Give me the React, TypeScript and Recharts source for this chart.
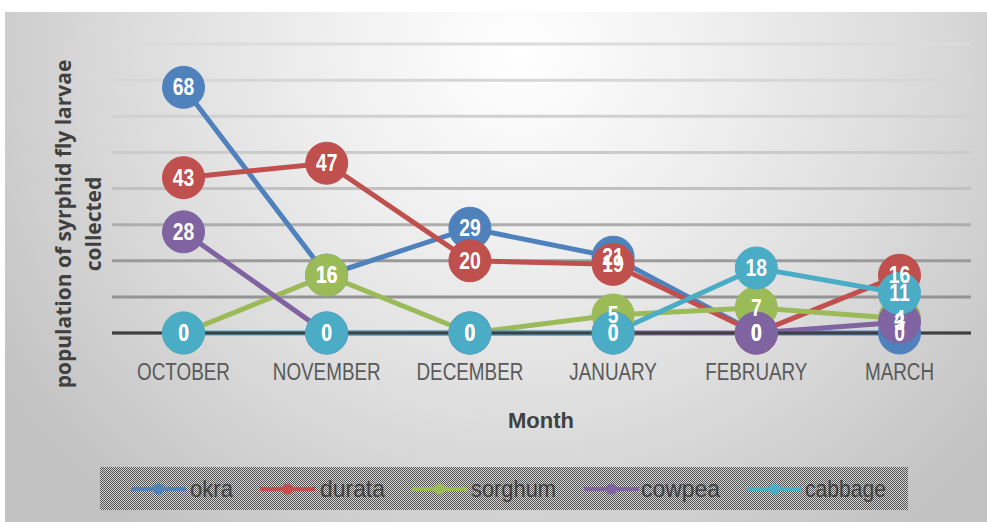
import React from 'react';
import { LineChart, Line, XAxis, YAxis, CartesianGrid, LabelList } from 'recharts';

const categories = ['OCTOBER', 'NOVEMBER', 'DECEMBER', 'JANUARY', 'FEBRUARY', 'MARCH'];
const okra = [68, 16, 29, 21, 0, 0];
const durata = [43, 47, 20, 19, 0, 16];
const sorghum = [0, 16, 0, 5, 7, 4];
const cowpea = [28, 0, 0, 0, 0, 3];
const cabbage = [0, 0, 0, 0, 18, 11];
const yTicks = [0, 10, 20, 30, 40, 50, 60, 70, 80];

const seriesNames = ['okra', 'durata', 'sorghum', 'cowpea', 'cabbage'];
const seriesValues = [okra, durata, sorghum, cowpea, cabbage];
const seriesColors = ['#4F81BD', '#C0504D', '#9BBB59', '#8064A2', '#4BACC6'];

const data = categories.map((month, i) => {
  const row: Record<string, any> = { month };
  seriesNames.forEach((n, k) => {
    row[n] = seriesValues[k][i];
  });
  return row;
});

const SANS = "'Liberation Sans', Arial, sans-serif";

const XTick = (props: any) => {
  const { x, y, payload } = props;
  return (
    <g transform={`translate(${x},${y + 47}) scale(0.82,1)`}>
      <text x={0} y={0} textAnchor="middle" fill="#595959" fontSize={23} fontFamily={SANS}>
        {payload.value}
      </text>
    </g>
  );
};

const PointLabel = (props: any) => {
  const { viewBox, value, x, y } = props;
  const cx = viewBox ? viewBox.x + (viewBox.width || 0) / 2 : x;
  const cy = viewBox ? viewBox.y + (viewBox.height || 0) / 2 : y;
  if (cx == null || cy == null) return null;
  return (
    <g transform={`translate(${cx},${cy + 8}) scale(0.84,1)`}>
      <text x={0} y={0} textAnchor="middle" fill="#ffffff" fontSize={23} fontWeight="bold" fontFamily={SANS}>
        {value}
      </text>
    </g>
  );
};

const legendLayout = [
  { line: 131, text: 190, w: 43 },
  { line: 260, text: 320, w: 65 },
  { line: 412, text: 471, w: 85 },
  { line: 584, text: 641, w: 79 },
  { line: 747, text: 805, w: 81 },
];

export default function App() {
  return (
    <div style={{ position: 'absolute', left: 0, top: 0, width: 987, height: 522, background: '#fff', overflow: 'hidden' }}>
      <div
        style={{
          position: 'absolute',
          left: 5,
          top: 12,
          width: 990,
          height: 520,
          background:
            'radial-gradient(ellipse 62% 115% at 52% 8%, #ffffff 0%, #f0f0f0 30%, #dedede 60%, #c2c2c2 100%)',
        }}
      />
      <div style={{ position: 'absolute', left: 0, top: 0 }}>
        <LineChart width={987} height={522} data={data} margin={{ top: 44, right: 16, left: 112, bottom: 159 }}>
          <defs>
            <linearGradient id="gridGrad" gradientUnits="userSpaceOnUse" x1="0" y1="44" x2="0" y2="333">
              <stop offset="0%" stopColor="#dcdcdc" />
              <stop offset="45%" stopColor="#c8c8c8" />
              <stop offset="75%" stopColor="#9a9a9a" />
              <stop offset="100%" stopColor="#8c8c8c" />
            </linearGradient>
          </defs>
          <CartesianGrid vertical={false} stroke="url(#gridGrad)" strokeWidth={3} />
          <YAxis hide domain={[0, 80]} ticks={yTicks} type="number" />
          <XAxis
            dataKey="month"
            padding={{ left: 71.5, right: 71.5 }}
            axisLine={{ stroke: '#404040', strokeWidth: 3 }}
            tickLine={false}
            tickSize={0}
            tickMargin={0}
            tick={<XTick />}
            interval={0}
          />
          {seriesNames.map((n, k) => (
            <Line
              key={n}
              dataKey={n}
              type="linear"
              stroke={seriesColors[k]}
              strokeWidth={5}
              dot={{ r: 21, fill: seriesColors[k], stroke: seriesColors[k], strokeWidth: 1 }}
              activeDot={false}
              isAnimationActive={false}
            />
          ))}
          {seriesNames.map((n) => (
            <Line
              key={n + '-lbl'}
              dataKey={n}
              stroke="none"
              dot={false}
              activeDot={false}
              isAnimationActive={false}
            >
              <LabelList dataKey={n} position="center" content={<PointLabel />} />
            </Line>
          ))}
        </LineChart>
      </div>
      <svg width={987} height={522} style={{ position: 'absolute', left: 0, top: 0, pointerEvents: 'none' }}>
        <defs>
          <pattern id="legPat" width="2" height="2" patternUnits="userSpaceOnUse">
            <rect width="2" height="2" fill="#d6d6d6" />
            <rect x="0" y="0" width="1" height="1" fill="#505050" />
            <rect x="1" y="1" width="1" height="1" fill="#505050" />
          </pattern>
        </defs>
        <text
          transform="translate(63,224) rotate(-90)"
          textAnchor="middle"
          dominantBaseline="central"
          fontSize={21}
          fontWeight="bold"
          fill="#404040"
          fontFamily="'Open Sans', 'Liberation Sans', sans-serif"
        >
          population of syrphid fly larvae
        </text>
        <text
          transform="translate(93,224) rotate(-90)"
          textAnchor="middle"
          dominantBaseline="central"
          fontSize={21}
          fontWeight="bold"
          fill="#404040"
          fontFamily="'Open Sans', 'Liberation Sans', sans-serif"
        >
          collected
        </text>
        <text x={541} y={428} textAnchor="middle" fontSize={22} fontWeight="bold" fill="#404040" fontFamily={SANS}>
          Month
        </text>
        <rect x={100} y={467} width={808} height={43} fill="url(#legPat)" />
        {seriesNames.map((n, k) => (
          <g key={n}>
            <line x1={legendLayout[k].line} x2={legendLayout[k].line + 55} y1={489} y2={489} stroke={seriesColors[k]} strokeWidth={4} />
            <circle cx={legendLayout[k].line + 27.5} cy={489} r={5.5} fill={seriesColors[k]} />
            <text
              x={legendLayout[k].text}
              y={497}
              fontSize={24}
              fill="#404040"
              fontFamily={SANS}
              textLength={legendLayout[k].w}
              lengthAdjust="spacingAndGlyphs"
            >
              {n}
            </text>
          </g>
        ))}
      </svg>
    </div>
  );
}
